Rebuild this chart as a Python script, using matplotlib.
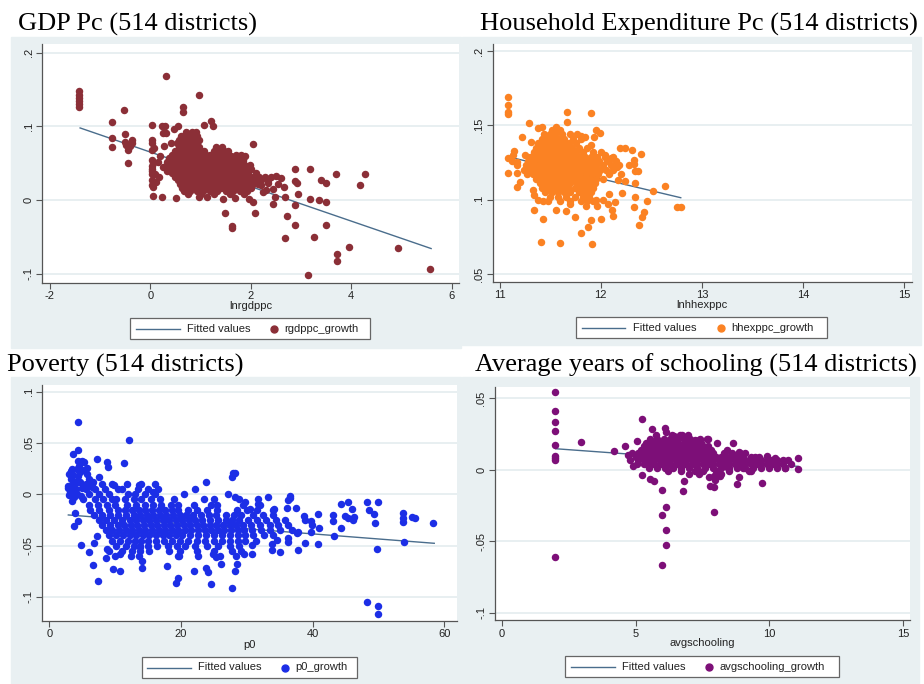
import numpy as np
import matplotlib.pyplot as plt
from matplotlib.lines import Line2D
from matplotlib.patches import Rectangle

plt.rcParams['font.family'] = ['Liberation Sans', 'DejaVu Sans']

# ---------------- data: GDP per capita ----------------
gdp_out_x = [-1.42, -1.42, -1.42, -1.42, -1.42, -1.42, -0.52, -0.76, -0.76, -0.76, -0.51, -0.51, -0.45, -0.36, -0.36,
             -0.45, -0.40, -0.49, 0.03, 0.03, 0.03, 0.03, 0.03, 0.03, 0.03, 0.03, 0.03, 0.03, 0.05, 0.06, 0.04, 0.05,
             0.08, 0.10, 0.23, 0.30, 0.26, 0.32, 0.28, 0.25, 0.33, 0.23, 0.50, 0.32, 0.96, 0.65, 0.64, 1.21, 1.24,
             1.06, 0.47, 0.55, 0.40, 0.15, 0.18, 0.12, 0.20, 1.89, 2.04, 2.88, 3.17, 3.70, 4.27, 4.18, 3.39, 3.50,
             2.87, 2.92, 2.93, 3.17, 3.35, 3.50, 2.69, 2.66, 2.49, 2.45, 2.88, 2.72, 2.88, 3.50, 2.69, 3.25, 3.95,
             3.72, 3.72, 4.93, 5.56, 3.13, 2.08, 1.49, 1.62, 1.62, 2.25, 2.05, 1.97, 1.69, 1.44, 1.13, 0.97, 2.40,
             2.50, 2.55, 2.35, 2.20, 2.30, 2.60, 2.45, 1.98, 1.95, 1.85, 1.75, 1.60]
gdp_out_y = [0.148, 0.143, 0.139, 0.135, 0.131, 0.127, 0.123, 0.106, 0.084, 0.072, 0.090, 0.079, 0.068, 0.081, 0.077,
             0.051, 0.073, 0.075, 0.102, 0.081, 0.077, 0.068, 0.054, 0.046, 0.043, 0.036, 0.027, 0.020, 0.018, 0.006,
             0.040, 0.050, 0.071, 0.036, 0.101, 0.101, 0.091, 0.091, 0.073, 0.045, 0.040, 0.004, 0.003, 0.168, 0.142,
             0.126, 0.119, 0.108, 0.101, 0.102, 0.097, 0.100, 0.077, 0.052, 0.031, 0.025, 0.060, 0.060, 0.076, 0.042,
             0.043, 0.035, 0.035, 0.020, 0.027, 0.023, 0.026, 0.023, 0.008, 0.001, 0.000, -0.003, 0.005, 0.018, 0.004,
             -0.005, -0.007, -0.021, -0.033, -0.033, -0.051, -0.050, -0.064, -0.073, -0.082, -0.065, -0.093, -0.101,
             -0.017, -0.017, -0.035, -0.038, 0.011, -0.002, 0.002, 0.003, 0.001, 0.005, 0.005, 0.031, 0.033, 0.022,
             0.024, 0.021, 0.014, 0.030, 0.015, 0.048, 0.044, 0.055, 0.057, 0.060]
gdp_core = {
    0.092: [0.70, 0.82, 0.90],
    0.087: [0.60, 0.68, 0.76, 0.84, 0.92],
    0.082: [0.56, 0.64, 0.72, 0.80, 0.88, 0.96],
    0.077: [0.52, 0.60, 0.68, 0.76, 0.84, 0.92],
    0.072: [0.56, 0.64, 0.72, 0.80, 0.88, 0.96, 1.30, 1.42],
    0.067: [0.48, 0.58, 0.66, 0.74, 0.82, 0.90, 0.98, 1.06, 1.26, 1.36, 1.46, 1.54],
    0.062: [0.42, 0.52, 0.62, 0.70, 0.78, 0.86, 0.94, 1.02, 1.10, 1.18, 1.28, 1.38, 1.48, 1.70, 1.80],
    0.057: [0.38, 0.48, 0.58, 0.66, 0.74, 0.82, 0.90, 0.98, 1.06, 1.14, 1.22, 1.30, 1.38, 1.46, 1.56, 1.66],
    0.052: [0.34, 0.44, 0.54, 0.62, 0.70, 0.78, 0.86, 0.94, 1.02, 1.10, 1.18, 1.26, 1.34, 1.42, 1.50, 1.60, 1.72,
            1.84],
    0.047: [0.38, 0.48, 0.56, 0.64, 0.72, 0.80, 0.88, 0.96, 1.04, 1.12, 1.20, 1.28, 1.36, 1.44, 1.52, 1.60, 1.70,
            1.80, 1.90],
    0.042: [0.36, 0.46, 0.54, 0.62, 0.70, 0.78, 0.86, 0.94, 1.02, 1.10, 1.18, 1.26, 1.34, 1.42, 1.50, 1.58, 1.66,
            1.76, 1.88, 2.00],
    0.037: [0.42, 0.52, 0.60, 0.68, 0.76, 0.84, 0.92, 1.00, 1.08, 1.16, 1.24, 1.32, 1.40, 1.48, 1.56, 1.64, 1.72,
            1.82, 1.94, 2.10],
    0.032: [0.48, 0.58, 0.66, 0.74, 0.82, 0.90, 0.98, 1.06, 1.14, 1.22, 1.30, 1.38, 1.46, 1.54, 1.62, 1.70, 1.78,
            1.88, 2.00, 2.16, 2.28],
    0.027: [0.54, 0.64, 0.72, 0.80, 0.88, 0.96, 1.04, 1.12, 1.20, 1.28, 1.36, 1.44, 1.52, 1.60, 1.68, 1.76, 1.86,
            1.96, 2.08, 2.20, 2.34],
    0.022: [0.58, 0.68, 0.76, 0.84, 0.92, 1.00, 1.08, 1.16, 1.24, 1.32, 1.40, 1.48, 1.56, 1.64, 1.72, 1.82, 1.92,
            2.04, 2.14],
    0.017: [0.62, 0.72, 0.80, 0.90, 1.00, 1.10, 1.20, 1.30, 1.40, 1.50, 1.60, 1.70, 1.80, 1.90, 2.00],
    0.012: [0.66, 0.78, 0.92, 1.04, 1.18, 1.32, 1.50, 1.64, 1.78, 1.92],
    0.008: [0.74, 1.00, 1.26, 1.58, 1.86],
}
gdp_fit_x = [-1.40, 5.59]
gdp_fit_y = [0.098, -0.0655]

# ---------------- data: household expenditure ----------------
hh_out_x = [11.08, 11.08, 11.08, 11.08, 11.08, 11.08, 11.17, 11.17, 11.17, 11.17, 11.20, 11.22, 11.29, 11.31, 11.33,
            11.34, 11.34, 11.43, 11.43, 11.41, 11.56, 11.60, 11.66, 11.67, 11.67, 11.74, 11.80, 11.87, 11.90, 11.91,
            11.90, 11.96, 12.00, 11.95, 11.99, 11.93, 11.90, 12.07, 12.11, 12.12, 12.14, 12.21, 12.24, 12.24, 12.31,
            12.33, 12.33, 12.34, 12.37, 12.40, 12.34, 12.34, 12.33, 12.46, 12.43, 12.41, 12.38, 12.52, 12.63, 12.75,
            12.79, 12.19, 11.13, 11.14, 11.12, 11.25, 11.24, 11.27, 11.30, 11.38, 11.42, 11.56, 11.80, 11.84, 12.04,
            12.10, 12.16, 12.17, 12.28, 12.08, 12.02, 11.38, 11.48, 11.85, 11.95, 11.70]
hh_out_y = [0.169, 0.1635, 0.159, 0.1576, 0.128, 0.118, 0.125, 0.1235, 0.1177, 0.1083, 0.112, 0.1424, 0.1513, 0.139,
            0.1065, 0.103, 0.093, 0.099, 0.087, 0.0717, 0.093, 0.0709, 0.0926, 0.159, 0.152, 0.088, 0.0773, 0.0818,
            0.158, 0.0704, 0.086, 0.0957, 0.087, 0.147, 0.145, 0.142, 0.137, 0.097, 0.093, 0.089, 0.0987, 0.1047,
            0.1126, 0.1345, 0.1336, 0.127, 0.124, 0.119, 0.119, 0.1307, 0.111, 0.102, 0.095, 0.099, 0.0917, 0.0886,
            0.0827, 0.106, 0.109, 0.095, 0.095, 0.1345, 0.130, 0.133, 0.126, 0.130, 0.120, 0.117, 0.125, 0.148,
            0.149, 0.149, 0.143, 0.142, 0.130, 0.128, 0.122, 0.113, 0.123, 0.104, 0.100, 0.100, 0.099, 0.096,
            0.100, 0.097]
hh_core = {
    0.147: [11.52, 11.56, 11.60],
    0.144: [11.44, 11.50, 11.55, 11.62, 11.70, 11.76],
    0.141: [11.42, 11.48, 11.53, 11.58, 11.64, 11.72, 11.80],
    0.138: [11.38, 11.44, 11.49, 11.54, 11.59, 11.64, 11.69, 11.75],
    0.135: [11.36, 11.41, 11.46, 11.51, 11.56, 11.61, 11.66, 11.71, 11.78, 11.86],
    0.132: [11.34, 11.40, 11.45, 11.50, 11.55, 11.60, 11.65, 11.70, 11.75, 11.82, 11.92, 12.00],
    0.129: [11.30, 11.36, 11.42, 11.47, 11.52, 11.57, 11.62, 11.67, 11.72, 11.78, 11.84, 11.90, 11.96, 12.04,
            12.12],
    0.126: [11.28, 11.34, 11.40, 11.45, 11.50, 11.55, 11.60, 11.65, 11.70, 11.75, 11.80, 11.86, 11.92, 11.98,
            12.06, 12.15],
    0.123: [11.26, 11.32, 11.38, 11.43, 11.48, 11.53, 11.58, 11.63, 11.68, 11.73, 11.78, 11.84, 11.90, 11.95,
            12.02, 12.10, 12.18],
    0.120: [11.30, 11.36, 11.41, 11.46, 11.51, 11.56, 11.61, 11.66, 11.71, 11.76, 11.81, 11.87, 11.93, 11.99,
            12.05, 12.12],
    0.117: [11.33, 11.39, 11.44, 11.49, 11.54, 11.59, 11.64, 11.69, 11.74, 11.79, 11.85, 11.91, 11.97, 12.08,
            12.20],
    0.114: [11.36, 11.42, 11.47, 11.52, 11.57, 11.62, 11.67, 11.72, 11.77, 11.83, 11.89, 11.95, 12.02],
    0.111: [11.40, 11.45, 11.50, 11.55, 11.60, 11.65, 11.70, 11.76, 11.82, 11.88, 11.94],
    0.108: [11.42, 11.48, 11.53, 11.58, 11.63, 11.68, 11.74, 11.80, 11.86, 11.92],
    0.105: [11.45, 11.52, 11.58, 11.64, 11.70, 11.78, 11.84, 11.90],
    0.102: [11.50, 11.58, 11.66, 11.74, 11.82, 11.88],
    0.099: [11.60, 11.70, 11.80, 11.86, 11.92],
}
hh_fit_x = [11.105, 12.79]
hh_fit_y = [0.1285, 0.1013]

# ---------------- data: poverty ----------------
pov_out_x = [4.41, 4.41, 3.55, 4.41, 4.92, 5.32, 5.78, 4.26, 4.66, 3.24, 3.55, 3.75, 4.16, 2.89, 3.30, 3.65, 3.40,
             3.90, 3.75, 4.41, 4.82, 5.07, 7.30, 7.50, 8.72, 8.87, 6.08, 6.59, 7.45, 7.20, 6.80, 11.35, 12.16, 8.62,
             9.73, 10.75, 10.75, 8.82, 6.18, 6.59, 6.44, 9.88, 11.76, 11.00, 13.68, 15.71, 13.79, 14.04, 14.14, 17.84,
             19.21, 19.57, 19.72, 22.15, 23.83, 22.00, 23.83, 24.18, 24.63, 26.05, 24.90, 25.30, 27.17, 27.78, 27.98,
             28.28, 27.83, 28.23, 28.59, 28.23, 29.75, 29.65, 30.87, 30.87, 30.51, 31.78, 31.78, 33.20, 34.21, 33.81,
             33.81, 35.07, 34.57, 36.34, 36.59, 36.59, 36.19, 37.50, 36.24, 36.24, 37.86, 37.60, 37.76, 38.87, 38.77,
             38.87, 39.79, 39.89, 39.74, 40.90, 41.00, 40.90, 43.08, 43.18, 43.33, 44.30, 44.35, 45.36, 44.96, 45.46,
             45.97, 46.07, 46.22, 48.25, 48.55, 49.27, 49.42, 49.87, 49.82, 48.25, 49.87, 49.87, 53.73, 53.73, 53.73,
             53.83, 55.10, 55.50, 58.29, 3.00, 3.30, 3.60, 4.00, 3.20, 3.80, 4.30, 4.70, 5.00, 3.50, 4.50, 5.20, 5.80,
             3.00, 4.20, 2.90, 4.80, 5.50, 6.00]
pov_out_y = [0.0708, 0.0429, 0.0390, 0.0325, 0.0325, 0.0318, 0.0253, 0.0247, 0.0220, 0.0230, 0.0190, 0.0123, 0.0123,
             0.0065, 0.0052, 0.0026, -0.0062, -0.0185, -0.0308, -0.0260, -0.0497, -0.0049, 0.0340, 0.0172, 0.0312,
             0.0263, -0.0562, -0.0688, -0.0841, -0.0403, -0.0477, 0.0308, 0.0526, -0.0623, -0.0727, -0.0750, -0.0584,
             -0.0532, 0.0107, 0.0123, 0.0075, 0.0091, 0.0097, 0.0052, 0.0091, 0.0026, -0.0510, -0.0650, -0.0714,
             -0.0695, -0.0867, -0.0812, -0.0604, 0.0052, 0.0123, -0.0744, -0.0721, -0.0760, -0.0877, -0.0679,
             -0.0584, -0.0607, 0.0000, 0.0172, 0.0205, 0.0205, -0.0909, -0.0744, -0.0679, -0.0026, -0.0071, -0.0584,
             -0.0584, -0.0494, -0.0143, -0.0045, -0.0094, -0.0023, -0.0140, -0.0487, -0.0540, -0.0558, -0.0445,
             -0.0055, -0.0013, -0.0039, -0.0130, -0.0130, -0.0429, -0.0460, -0.0364, -0.0380, -0.0539, -0.0477,
             -0.0208, -0.0250, -0.0260, -0.0299, -0.0370, -0.0195, -0.0325, -0.0484, -0.0201, -0.0256, -0.0406,
             -0.0097, -0.0325, -0.0078, -0.0211, -0.0227, -0.0146, -0.0250, -0.0218, -0.0071, -0.0149, -0.0195,
             -0.0282, -0.0071, -0.0532, -0.1052, -0.1091, -0.1162, -0.0182, -0.0234, -0.0273, -0.0461, -0.0218,
             -0.0227, -0.0276, 0.0200, 0.0150, 0.0100, 0.0050, 0.0020, -0.0030, 0.0180, 0.0120, 0.0060, 0.0250,
             0.0280, 0.0240, 0.0200, -0.0010, 0.0000, 0.0080, -0.0020, 0.0100, 0.0150]
pov_core = {
    0.010: [6.5, 8.0, 9.5, 14.0, 16.0],
    0.005: [5.5, 7.0, 8.5, 10.5, 13.5, 15.0, 16.5],
    0.000: [6.0, 7.5, 9.0, 12.0, 13.0, 14.5, 16.0, 20.5],
    -0.005: [7.0, 8.2, 9.5, 10.2, 11.5, 12.8, 14.0, 15.5, 16.8, 19.0, 23.5, 25.0, 28.8],
    -0.010: [6.0, 7.4, 8.8, 10.0, 11.8, 13.2, 14.5, 15.8, 17.0, 18.5, 19.5, 22.0, 24.5, 25.5, 29.5, 32.0],
    -0.015: [6.2, 7.6, 9.0, 10.5, 11.5, 12.6, 13.6, 14.6, 15.6, 16.6, 17.6, 18.6, 19.6, 21.0, 22.5, 24.0, 25.5,
             28.5, 30.0, 31.5, 34.0],
    -0.020: [6.8, 8.0, 9.2, 10.4, 11.6, 12.8, 13.8, 14.8, 15.8, 16.8, 17.8, 18.8, 19.8, 20.8, 21.8, 23.0, 24.2,
             25.4, 26.8, 28.0, 29.2, 31.0, 32.5, 34.0],
    -0.025: [7.5, 8.6, 9.8, 11.0, 12.2, 13.2, 14.2, 15.2, 16.2, 17.2, 18.2, 19.2, 20.2, 21.2, 22.2, 23.2, 24.4,
             25.6, 26.8, 27.8, 28.8, 30.2, 31.5, 33.0, 34.5, 35.8],
    -0.030: [8.0, 9.2, 10.4, 11.4, 12.4, 13.4, 14.4, 15.4, 16.4, 17.4, 18.4, 19.4, 20.4, 21.4, 22.4, 23.4, 24.4,
             25.4, 26.4, 27.4, 28.4, 29.4, 30.6, 32.0, 33.5, 34.8, 36.2],
    -0.035: [8.6, 9.6, 10.6, 11.6, 12.6, 13.6, 14.6, 15.6, 16.6, 17.6, 18.6, 19.6, 20.6, 21.6, 22.6, 23.6, 24.6,
             25.6, 26.6, 27.6, 28.6, 29.6, 30.8, 32.2, 33.6, 35.0, 36.8],
    -0.040: [9.0, 10.2, 11.2, 12.2, 13.2, 14.2, 15.2, 16.2, 17.2, 18.2, 19.2, 20.2, 21.4, 22.6, 23.8, 25.0, 26.2,
             27.4, 28.6, 29.8, 31.0, 32.6, 34.0],
    -0.045: [9.6, 10.8, 12.0, 13.0, 14.0, 15.0, 16.2, 17.4, 18.6, 19.8, 21.0, 22.4, 23.6, 25.0, 26.2, 27.4, 28.6,
             29.8, 31.4],
    -0.050: [10.2, 11.6, 12.8, 13.8, 15.0, 16.4, 18.0, 19.4, 20.6, 22.2, 24.0, 25.6, 27.4, 28.8],
    -0.055: [9.0, 11.0, 12.6, 13.8, 15.2, 18.2, 19.8, 22.4, 25.0, 27.8, 29.2],
    -0.060: [10.0, 12.4, 13.6, 19.6, 22.6, 26.0, 28.4],
}
pov_fit_x = [2.89, 58.49]
pov_fit_y = [-0.0201, -0.0477]

# ---------------- data: schooling ----------------
sch_out_x = [2.0, 2.0, 2.0, 2.0, 2.0, 2.0, 2.0, 2.0, 2.0, 2.97, 4.18, 4.59, 5.05, 5.24, 5.61, 6.11, 6.13, 4.90, 5.24,
             5.52, 5.70, 5.99, 6.12, 6.00, 6.12, 6.12, 6.00, 6.80, 6.77, 7.94, 7.79, 7.94, 8.05, 7.67, 8.64, 8.85,
             8.79, 8.87, 9.23, 9.73, 11.06, 11.06, 7.98, 7.92, 7.76, 8.17, 4.70, 4.85, 4.80, 5.05, 6.45, 6.65, 6.80,
             7.20, 7.35, 8.40, 9.00, 9.45, 10.60, 9.90, 10.20]
sch_out_y = [0.0541, 0.0411, 0.0331, 0.0273, 0.0170, 0.0093, 0.0082, 0.0068, -0.0611, 0.0194, 0.0131, 0.0168,
             0.0201, 0.0352, 0.0285, 0.0292, 0.0264, 0.0026, -0.0037, -0.0068, -0.0082, -0.0140, -0.0257, -0.0315,
             -0.0422, -0.0525, -0.0665, -0.0077, -0.0152, -0.0292, -0.0112, -0.0121, 0.0184, 0.0212, 0.0184, 0.0121,
             -0.0100, -0.0049, -0.0012, -0.0091, 0.0082, 0.0007, -0.0070, -0.0047, -0.0054, -0.0047, 0.0100, 0.0120,
             0.0070, 0.0040, 0.0235, 0.0240, 0.0225, 0.0205, 0.0205, 0.0020, 0.0010, 0.0090, 0.0010, 0.0095, 0.0080]
sch_core = {
    0.0240: [5.75, 6.35, 6.75, 6.95],
    0.0215: [5.55, 5.80, 6.05, 6.30, 6.55, 6.80, 7.05, 7.40, 7.70],
    0.0190: [5.40, 5.60, 5.80, 6.00, 6.20, 6.40, 6.60, 6.80, 7.00, 7.20, 7.45],
    0.0165: [5.30, 5.50, 5.70, 5.90, 6.10, 6.30, 6.50, 6.70, 6.90, 7.10, 7.30, 7.50, 7.70],
    0.0140: [5.20, 5.40, 5.60, 5.80, 6.00, 6.20, 6.40, 6.60, 6.80, 7.00, 7.20, 7.40, 7.60, 7.80, 8.40],
    0.0115: [5.10, 5.30, 5.50, 5.70, 5.90, 6.10, 6.30, 6.50, 6.70, 6.90, 7.10, 7.30, 7.50, 7.70, 7.90, 8.30, 8.60,
             8.90, 9.10],
    0.0090: [5.00, 5.20, 5.40, 5.60, 5.80, 6.00, 6.20, 6.40, 6.60, 6.80, 7.00, 7.20, 7.40, 7.60, 7.80, 8.00, 8.20,
             8.40, 8.60, 8.80, 9.00, 9.30, 9.60],
    0.0065: [5.10, 5.30, 5.50, 5.70, 5.90, 6.10, 6.30, 6.50, 6.70, 6.90, 7.10, 7.30, 7.50, 7.70, 7.90, 8.10, 8.30,
             8.50, 8.70, 8.90, 9.10, 9.30, 9.50, 9.70, 9.90, 10.10, 10.30, 10.50, 10.70],
    0.0040: [5.30, 5.50, 5.70, 5.90, 6.10, 6.30, 6.50, 6.70, 6.90, 7.10, 7.30, 7.50, 7.70, 7.90, 8.10, 8.30, 8.50,
             8.70, 8.90, 9.10, 9.30, 9.50, 9.70, 9.90, 10.10, 10.30, 10.50, 10.80],
    0.0015: [5.50, 5.80, 6.10, 6.40, 6.70, 7.00, 7.30, 7.60, 7.90, 8.20, 8.50, 8.80, 9.10, 9.40, 9.70, 10.00,
             10.30, 10.60],
    -0.0010: [6.20, 6.70, 7.20, 7.50, 8.00, 8.50, 9.30],
    -0.0030: [7.00, 7.35, 8.20],
}
sch_fit_x = [2.01, 11.06]
sch_fit_y = [0.0147, 0.0024]

W, H = 924, 684
BG = '#e9f0f2'
FITC = '#4a6d8c'


def fx(px):
    return px / W


def fy(py):
    return 1 - py / H


def flatten(out_x, out_y, core):
    xs, ys = list(out_x), list(out_y)
    for yv, row in core.items():
        xs += row
        ys += [yv] * len(row)
    return np.array(xs), np.array(ys)


def legend_box(box, line_x, text1_x, marker_x, text2_x, color, label):
    # hand-built Stata-style legend, all positions in pixels
    x0, y0, x1, y1 = box
    cy = fy((y0 + y1) / 2)
    fig.add_artist(Rectangle((fx(x0), fy(y1)), (x1 - x0) / W, (y1 - y0) / H, transform=fig.transFigure,
                             facecolor='white', edgecolor='#666666', lw=0.9, zorder=3))
    fig.add_artist(Line2D([fx(line_x[0]), fx(line_x[1])], [cy, cy], transform=fig.transFigure,
                          color=FITC, lw=1, zorder=4))
    fig.add_artist(Line2D([fx(marker_x)], [cy], transform=fig.transFigure, marker='o', ls='',
                          color=color, markersize=5, zorder=4))
    fig.text(fx(text1_x), cy, 'Fitted values', fontsize=8, va='center', ha='left', color='#222222', zorder=4)
    fig.text(fx(text2_x), cy, label, fontsize=8, va='center', ha='left', color='#222222', zorder=4)


def panel(region, box, xlim, ylim, xticks, yticks, ylabels, xs, ys, color, fit_x, fit_y,
          title, title_pos, xlabel, xlabel_pos):
    x0, y0, x1, y1 = region
    fig.patches.append(Rectangle((fx(x0), fy(y1)), (x1 - x0) / W, (y1 - y0) / H,
                                 transform=fig.transFigure, color=BG, zorder=-5))
    l, t, r, b = box
    ax = fig.add_axes([fx(l), fy(b), (r - l) / W, (b - t) / H])
    ax.set_zorder(2)
    ax.set_xlim(*xlim)
    ax.set_ylim(*ylim)
    ax.set_xticks(xticks)
    ax.set_xticklabels([str(v) for v in xticks])
    ax.set_yticks(yticks)
    ax.set_yticklabels(ylabels, rotation=90, va='center')
    for yv in yticks:
        ax.axhline(yv, color='#e4ecef', lw=1.2, zorder=0)
    ax.plot(fit_x, fit_y, color=FITC, lw=1, zorder=1)
    ax.scatter(xs, ys, s=29, color=color, linewidths=0, zorder=2)
    for s in ['top', 'right']:
        ax.spines[s].set_visible(False)
    for s in ['left', 'bottom']:
        ax.spines[s].set_color('#555555')
        ax.spines[s].set_linewidth(0.9)
    ax.tick_params(direction='out', length=4, width=0.8, color='#555555', labelsize=8, pad=2,
                   labelcolor='#222222')
    fig.text(fx(title_pos[0]), fy(title_pos[1]), title, family='Liberation Serif', fontsize=19,
             va='baseline', ha='left', color='black')
    fig.text(fx(xlabel_pos[0]), fy(xlabel_pos[1]), xlabel, fontsize=8, ha='center', va='center',
             color='#222222')
    return ax


fig = plt.figure(figsize=(W / 100, H / 100), dpi=100)

x, y = flatten(gdp_out_x, gdp_out_y, gdp_core)
panel((11, 37, 461, 348), (42.3, 44.3, 459.3, 282.7), (-2.153, 6.151), (-0.1118, 0.2114),
      [-2, 0, 2, 4, 6], [-0.1, 0, 0.1, 0.2], ['-.1', '0', '.1', '.2'], x, y, '#8b2f37',
      gdp_fit_x, gdp_fit_y, 'GDP Pc (514 districts)', (18, 31), 'lnrgdppc', (250.7, 306))
legend_box((130, 318, 370, 339), (136, 180), 187, 274, 284, '#8b2f37', 'rgdppc_growth')

x, y = flatten(hh_out_x, hh_out_y, hh_core)
panel((462, 37, 921, 345), (492.7, 44.3, 912, 282), (10.931, 15.076), (0.0446, 0.2045),
      [11, 12, 13, 14, 15], [0.05, 0.1, 0.15, 0.2], ['.05', '.1', '.15', '.2'], x, y, '#fb8223',
      hh_fit_x, hh_fit_y, 'Household Expenditure Pc (514 districts)', (480, 31), 'lnhhexppc', (702, 305))
legend_box((576, 317, 827, 338), (582, 625), 633, 721, 731, '#fb8223', 'hhexppc_growth')

x, y = flatten(pov_out_x, pov_out_y, pov_core)
panel((11, 377, 461, 684), (42.3, 385, 456.7, 621), (-1.064, 61.9), (-0.1234, 0.1065),
      [0, 20, 40, 60], [-0.1, -0.05, 0, 0.05, 0.1], ['-.1', '-.05', '0', '.05', '.1'], x, y, '#1c2ee6',
      pov_fit_x, pov_fit_y, 'Poverty (514 districts)', (7, 371.7), 'p0', (249, 645))
legend_box((142, 657, 357, 678), (147, 191), 198, 285, 295, '#1c2ee6', 'p0_growth')

x, y = flatten(sch_out_x, sch_out_y, sch_core)
panel((462, 377, 919, 684), (494.7, 386.7, 910, 620.3), (-0.273, 15.26), (-0.1053, 0.0581),
      [0, 5, 10, 15], [-0.1, -0.05, 0, 0.05], ['-.1', '-.05', '0', '.05'], x, y, '#7d0f78',
      sch_fit_x, sch_fit_y, 'Average years of schooling (514 districts)', (475, 371.7), 'avgschooling',
      (702, 643))
legend_box((565, 656, 839, 677), (571, 615), 622, 709, 719, '#7d0f78', 'avgschooling_growth')

fig.savefig('out.png', dpi=100)
